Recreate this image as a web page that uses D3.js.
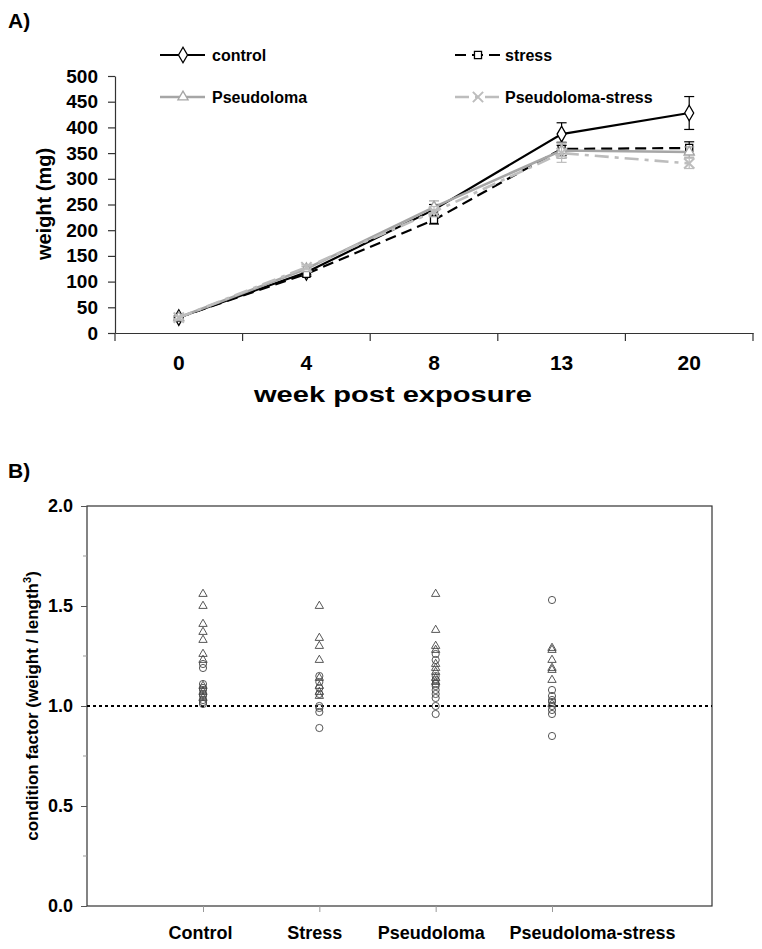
<!DOCTYPE html>
<html><head><meta charset="utf-8">
<script src="https://cdn.jsdelivr.net/npm/d3@7"></script>
<style>
body{margin:0;background:#fff}
svg{display:block}
text{font-family:"Liberation Sans",Arial,sans-serif;font-weight:bold;fill:#000}
</style>
</head><body><svg id="c" width="762" height="949"></svg>
<script>
// ---------- Panel A data ----------
const weeks = ["0", "4", "8", "13", "20"];
const controlW = [30, 118, 240, 387, 428];
const controlE = [3, 5, 10, 22, 32];
const stressW = [30, 115, 220, 358, 360];
const stressE = [3, 5, 8, 13, 12];
const pseudoW = [30, 125, 245, 355, 352];
const pseudoE = [3, 5, 12, 15, 10];
const pstressW = [30, 128, 236, 350, 330];
const pstressE = [3, 5, 10, 18, 10];
const weightTicks = [0, 50, 100, 150, 200, 250, 300, 350, 400, 450, 500];
const seriesNames = ["control", "stress", "Pseudoloma", "Pseudoloma-stress"];

// ---------- Panel B data ----------
const groups = ["Control", "Stress", "Pseudoloma", "Pseudoloma-stress"];
const cfTicks = [0, 0.5, 1.0, 1.5, 2.0];
const cfMinorTicks = [0.25, 0.75, 1.25, 1.75];
const controlTri = [1.56, 1.50, 1.41, 1.37, 1.33, 1.26, 1.23, 1.10, 1.07, 1.04];
const controlCirc = [1.21, 1.19, 1.11, 1.09, 1.08, 1.06, 1.05, 1.03, 1.02, 1.01];
const stressTri = [1.50, 1.34, 1.30, 1.23, 1.14, 1.10, 1.07, 1.05];
const stressCirc = [1.15, 1.12, 1.09, 1.06, 1.00, 0.99, 0.97, 0.89];
const pseudoTri = [1.56, 1.38, 1.30, 1.28, 1.21, 1.19, 1.17, 1.14, 1.12];
const pseudoCirc = [1.26, 1.23, 1.15, 1.13, 1.11, 1.10, 1.08, 1.06, 1.04, 1.00, 0.96];
const pstressTri = [1.29, 1.28, 1.23, 1.19, 1.18, 1.13, 1.01];
const pstressCirc = [1.53, 1.08, 1.05, 1.03, 1.02, 1.00, 0.98, 0.96, 0.85];
const referenceLine = 1.0;

(function () {
const svg = d3.select("#c");
const FONT = "Liberation Sans, Arial, sans-serif";

// ================= PANEL A =================
const gA = svg.append("g");
gA.append("text").attr("x", 8).attr("y", 28).attr("font-size", 21).text("A)");

const xA = d3.scaleBand().domain(weeks).range([115, 753]);
const yA = d3.scaleLinear().domain([0, 500]).range([333, 76]);
const cx = w => xA(w) + xA.bandwidth() / 2;

const yAxisA = gA.append("g").attr("transform", "translate(115,0)")
  .call(d3.axisLeft(yA).tickValues(weightTicks).tickSize(7).tickSizeOuter(0).tickPadding(10));
yAxisA.select(".domain").attr("stroke", "#333").attr("stroke-width", 1.2);
yAxisA.selectAll(".tick line").attr("stroke", "#333").attr("stroke-width", 1.2);
yAxisA.selectAll(".tick text").attr("font-size", 19).attr("font-family", FONT)
  .attr("font-weight", "bold").attr("fill", "#000");

const xAxisA = gA.append("g").attr("transform", "translate(0,333)")
  .call(d3.axisBottom(xA).tickSize(0).tickPadding(22));
xAxisA.select(".domain").attr("stroke", "#333").attr("stroke-width", 1.2);
xAxisA.selectAll(".tick text").attr("font-size", 21).attr("font-family", FONT)
  .attr("font-weight", "bold").attr("fill", "#000");
const bounds = weeks.map(w => xA(w)).concat([xA.range()[1]]);
gA.append("g").selectAll("line").data(bounds).join("line")
  .attr("x1", d => d).attr("x2", d => d).attr("y1", 333).attr("y2", 341)
  .attr("stroke", "#333").attr("stroke-width", 1.2);

gA.append("text").attr("x", 393).attr("y", 402).attr("text-anchor", "middle")
  .attr("font-size", 22).attr("textLength", 278).attr("lengthAdjust", "spacingAndGlyphs")
  .text("week post exposure");
gA.append("text").attr("transform", "translate(51,204) rotate(-90)").attr("text-anchor", "middle")
  .attr("font-size", 20).text("weight (mg)");

const series = [
  {vals: controlW, err: controlE, color: "#000", dash: null, width: 2.2, sym: "diamond", msize: 70, mstroke: "#000"},
  {vals: stressW, err: stressE, color: "#000", dash: "11,6", width: 2.2, sym: "square", msize: 50, mstroke: "#000"},
  {vals: pseudoW, err: pseudoE, color: "#a6a6a6", dash: null, width: 2.6, sym: "triangle", msize: 45, mstroke: "#a6a6a6"},
  {vals: pstressW, err: pstressE, color: "#bdbdbd", dash: "14,6,4,6", width: 2.6, sym: "x", msize: 70, mstroke: "#bdbdbd"}
];
function symPath(sym, size) {
  const t = {diamond: d3.symbolDiamond, square: d3.symbolSquare, triangle: d3.symbolTriangle,
             x: d3.symbolTimes || d3.symbolX || d3.symbolCross}[sym];
  return d3.symbol().type(t).size(size)();
}
const line = d3.line().x((d, i) => cx(weeks[i])).y(d => yA(d));

series.forEach(s => {
  const g = gA.append("g");
  s.vals.forEach((v, i) => {
    const x = cx(weeks[i]);
    const y1 = yA(v + s.err[i]), y2 = yA(v - s.err[i]);
    g.append("line").attr("x1", x).attr("x2", x).attr("y1", y1).attr("y2", y2).attr("stroke", s.mstroke).attr("stroke-width", 1.2);
    [y1, y2].forEach(yy => g.append("line").attr("x1", x - 5).attr("x2", x + 5).attr("y1", yy).attr("y2", yy)
      .attr("stroke", s.mstroke).attr("stroke-width", 1.2));
  });
  g.append("path").attr("d", line(s.vals)).attr("fill", "none").attr("stroke", s.color)
    .attr("stroke-width", s.width).attr("stroke-dasharray", s.dash);
  g.selectAll(".m").data(s.vals).join("path")
    .attr("transform", (d, i) => `translate(${cx(weeks[i])},${yA(d)})`)
    .attr("d", symPath(s.sym, s.msize))
    .attr("fill", s.sym === "x" ? "none" : "#fff").attr("stroke", s.mstroke).attr("stroke-width", s.sym === "x" ? 2 : 1.3);
});

const legPos = [[160, 55], [455, 55], [160, 97], [455, 97]];
series.forEach((s, i) => {
  const [lx, ly] = legPos[i];
  const g = gA.append("g").attr("transform", `translate(${lx},${ly})`);
  g.append("line").attr("x1", 0).attr("x2", 45).attr("y1", 0).attr("y2", 0)
    .attr("stroke", s.color).attr("stroke-width", s.width).attr("stroke-dasharray", s.dash);
  g.append("path").attr("transform", "translate(23,0)").attr("d", symPath(s.sym, s.msize))
    .attr("fill", s.sym === "x" ? "none" : "#fff").attr("stroke", s.mstroke).attr("stroke-width", s.sym === "x" ? 2 : 1.3);
  g.append("text").attr("x", i % 2 ? 50 : 52).attr("y", 6).attr("font-size", 16).text(seriesNames[i]);
});

// ================= PANEL B =================
const gB = svg.append("g");
gB.append("text").attr("x", 8).attr("y", 478).attr("font-size", 21).text("B)");

const bLeft = 87, bRight = 712, bTop = 506, bBottom = 906;
const xB = d3.scalePoint().domain(groups).range([203, 552]);
const yB = d3.scaleLinear().domain([0, 2]).range([bBottom, bTop]);

gB.append("rect").attr("x", bLeft).attr("y", bTop).attr("width", bRight - bLeft).attr("height", bBottom - bTop)
  .attr("fill", "none").attr("stroke", "#333").attr("stroke-width", 1.2);

const yAxisB = gB.append("g").attr("transform", `translate(${bLeft},0)`)
  .call(d3.axisLeft(yB).tickValues(cfTicks).tickFormat(d3.format(".1f")).tickSize(6).tickSizeOuter(0).tickPadding(8));
yAxisB.select(".domain").remove();
yAxisB.selectAll(".tick line").attr("stroke", "#555");
yAxisB.selectAll(".tick text").attr("font-size", 18).attr("font-family", FONT)
  .attr("font-weight", "bold").attr("fill", "#000");
gB.append("g").selectAll("line").data(cfMinorTicks).join("line")
  .attr("x1", bLeft - 4).attr("x2", bLeft).attr("y1", d => yB(d)).attr("y2", d => yB(d)).attr("stroke", "#999");

const xAxisB = gB.append("g").attr("transform", `translate(0,${bBottom})`)
  .call(d3.axisBottom(xB).tickSize(6).tickPadding(14));
xAxisB.select(".domain").remove();
xAxisB.selectAll(".tick line").attr("stroke", "#999");
xAxisB.selectAll(".tick text").attr("font-size", 18).attr("font-family", FONT)
  .attr("font-weight", "bold").attr("fill", "#000")
  .attr("dx", d => d === "Pseudoloma-stress" ? 40 : (d === "Control" ? -3 : -5));

gB.append("line").attr("x1", bLeft).attr("x2", bRight).attr("y1", yB(referenceLine)).attr("y2", yB(referenceLine))
  .attr("stroke", "#000").attr("stroke-width", 2).attr("stroke-dasharray", "3,3");

const yTitle = gB.append("text").attr("transform", `translate(38,${(bTop + bBottom) / 2}) rotate(-90)`)
  .attr("text-anchor", "middle").attr("font-size", 17);
yTitle.append("tspan").text("condition factor (weight / length");
yTitle.append("tspan").attr("font-size", 11).attr("dy", -7).text("3");
yTitle.append("tspan").attr("dy", 7).text(")");

const triSets = [controlTri, stressTri, pseudoTri, pstressTri];
const circSets = [controlCirc, stressCirc, pseudoCirc, pstressCirc];
groups.forEach((grp, gi) => {
  gB.append("g").selectAll("circle").data(circSets[gi]).join("circle")
    .attr("cx", xB(grp)).attr("cy", d => yB(d)).attr("r", 3.6)
    .attr("fill", "none").attr("stroke", "#444").attr("stroke-width", 0.9);
  gB.append("g").selectAll("path").data(triSets[gi]).join("path")
    .attr("transform", d => `translate(${xB(grp)},${yB(d)})`)
    .attr("d", d3.symbol().type(d3.symbolTriangle).size(30)())
    .attr("fill", "none").attr("stroke", "#444").attr("stroke-width", 0.9);
});
})();
</script>
</body></html>
